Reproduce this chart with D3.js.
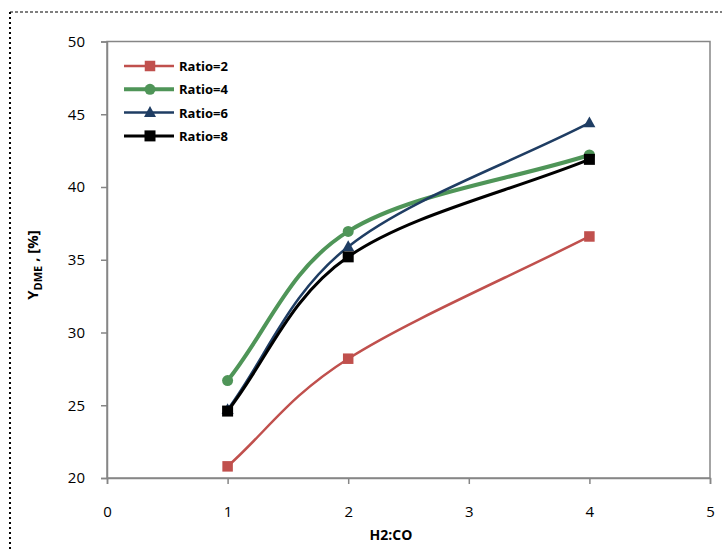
<!DOCTYPE html>
<html>
<head>
<meta charset="utf-8">
<script src="https://cdn.jsdelivr.net/npm/d3@7"></script>
<style>
  body { margin: 0; background: #fff; }
  svg { display: block; font-family: "Open Sans", "Noto Sans", sans-serif; }
</style>
</head>
<body>
<div id="chart"></div>
<script>
// 数据
const xValues = [1, 2, 4];
const ratio2 = [20.8, 28.2, 36.6];
const ratio4 = [26.7, 36.95, 42.2];
const ratio6 = [24.7, 35.9, 44.4];
const ratio8 = [24.6, 35.2, 41.9];
const seriesNames = ['Ratio=2', 'Ratio=4', 'Ratio=6', 'Ratio=8'];
const xTicks = [0, 1, 2, 3, 4, 5];
const yTicks = [20, 25, 30, 35, 40, 45, 50];

// 样式
const styles = [
  { color: '#c0504d', width: 2.5, marker: 'square', size: 10.5 },
  { color: '#4f9558', width: 4, marker: 'circle', size: 11 },
  { color: '#1f3d63', width: 2.5, marker: 'triangle', size: 12 },
  { color: '#000000', width: 3, marker: 'square', size: 11 }
];

const width = 723;
const height = 550;
const plot = { left: 107, right: 710, top: 41.5, bottom: 478 };

const svg = d3.select('#chart')
  .append('svg')
  .attr('width', width)
  .attr('height', height);

// 外框虚线
svg.append('line')
  .attr('x1', 10).attr('y1', 12).attr('x2', 722).attr('y2', 12)
  .attr('stroke', '#000').attr('stroke-width', 1.2)
  .attr('stroke-dasharray', '3,2');
svg.append('line')
  .attr('x1', 10).attr('y1', 12).attr('x2', 10).attr('y2', 550)
  .attr('stroke', '#000').attr('stroke-width', 2)
  .attr('stroke-dasharray', '2,3');

const x = d3.scaleLinear().domain([0, 5]).range([plot.left, plot.right]);
const y = d3.scaleLinear().domain([20, 50]).range([plot.bottom, plot.top]);

// 绘图区边框
svg.append('rect')
  .attr('x', plot.left).attr('y', plot.top)
  .attr('width', plot.right - plot.left)
  .attr('height', plot.bottom - plot.top)
  .attr('fill', 'none')
  .attr('stroke', '#868686')
  .attr('stroke-width', 1.5);

// 坐标轴
const xAxis = svg.append('g')
  .attr('transform', `translate(0,${plot.bottom})`)
  .call(d3.axisBottom(x).tickValues(xTicks).tickFormat(d3.format('d')).tickSize(6).tickPadding(22));
const yAxis = svg.append('g')
  .attr('transform', `translate(${plot.left},0)`)
  .call(d3.axisLeft(y).tickValues(yTicks).tickFormat(d3.format('d')).tickSize(6).tickPadding(16));

[xAxis, yAxis].forEach(g => {
  g.select('.domain').attr('stroke', '#868686').attr('stroke-width', 1.5);
  g.selectAll('.tick line').attr('stroke', '#868686').attr('stroke-width', 1.5);
  g.selectAll('.tick text')
    .attr('fill', '#000')
    .style('font-size', '15px')
    .style('font-family', '"Open Sans", "Noto Sans", sans-serif');
});

// 轴标题
svg.append('text')
  .attr('x', 391).attr('y', 540)
  .attr('text-anchor', 'middle')
  .style('font-size', '14px')
  .style('font-weight', 'bold')
  .text('H2:CO');

const yTitle = svg.append('text')
  .attr('transform', 'translate(38,265) rotate(-90)')
  .attr('text-anchor', 'middle')
  .style('font-size', '15px')
  .style('font-weight', 'bold');
yTitle.append('tspan').text('Y');
yTitle.append('tspan').attr('dy', 4).style('font-size', '11px').text('DME');
yTitle.append('tspan').attr('dy', -4).text(' , [%]');

/**
 * Excel 风格平滑线：端点用镜像虚拟点的 Catmull-Rom
 */
function smoothPath(pts) {
  const p = d3.path();
  const n = pts.length;
  const get = i => {
    if (i < 0) return [2 * pts[0][0] - pts[1][0], 2 * pts[0][1] - pts[1][1]];
    if (i >= n) return [2 * pts[n - 1][0] - pts[n - 2][0], 2 * pts[n - 1][1] - pts[n - 2][1]];
    return pts[i];
  };
  p.moveTo(pts[0][0], pts[0][1]);
  for (let i = 0; i < n - 1; i++) {
    const p0 = get(i - 1), p1 = get(i), p2 = get(i + 1), p3 = get(i + 2);
    p.bezierCurveTo(
      p1[0] + (p2[0] - p0[0]) / 6, p1[1] + (p2[1] - p0[1]) / 6,
      p2[0] - (p3[0] - p1[0]) / 6, p2[1] - (p3[1] - p1[1]) / 6,
      p2[0], p2[1]
    );
  }
  return p.toString();
}

function drawMarker(g, type, size, color, cx, cy) {
  if (type === 'square') {
    g.append('rect')
      .attr('x', cx - size / 2).attr('y', cy - size / 2)
      .attr('width', size).attr('height', size)
      .attr('fill', color);
  } else if (type === 'circle') {
    g.append('circle')
      .attr('cx', cx).attr('cy', cy).attr('r', size / 2)
      .attr('fill', color);
  } else {
    const h = size * 0.9;
    g.append('path')
      .attr('d', `M${cx},${cy - h * 0.6} L${cx + size / 2},${cy + h * 0.4} L${cx - size / 2},${cy + h * 0.4} Z`)
      .attr('fill', color);
  }
}

// 曲线
const allSeries = [ratio2, ratio4, ratio6, ratio8];
allSeries.forEach((values, i) => {
  const s = styles[i];
  const pts = xValues.map((xv, j) => [x(xv), y(values[j])]);
  const g = svg.append('g');
  g.append('path')
    .attr('d', smoothPath(pts))
    .attr('fill', 'none')
    .attr('stroke', s.color)
    .attr('stroke-width', s.width);
  pts.forEach(p => drawMarker(g, s.marker, s.size, s.color, p[0], p[1]));
});

// 图例
const legend = svg.append('g');
seriesNames.forEach((name, i) => {
  const s = styles[i];
  const ly = 66 + i * 23.3;
  legend.append('line')
    .attr('x1', 124).attr('x2', 174)
    .attr('y1', ly).attr('y2', ly)
    .attr('stroke', s.color)
    .attr('stroke-width', s.width);
  drawMarker(legend, s.marker, s.size, s.color, 150, ly);
  legend.append('text')
    .attr('x', 179).attr('y', ly + 5)
    .style('font-size', '13px')
    .style('font-weight', 'bold')
    .text(name);
});
</script>
</body>
</html>
